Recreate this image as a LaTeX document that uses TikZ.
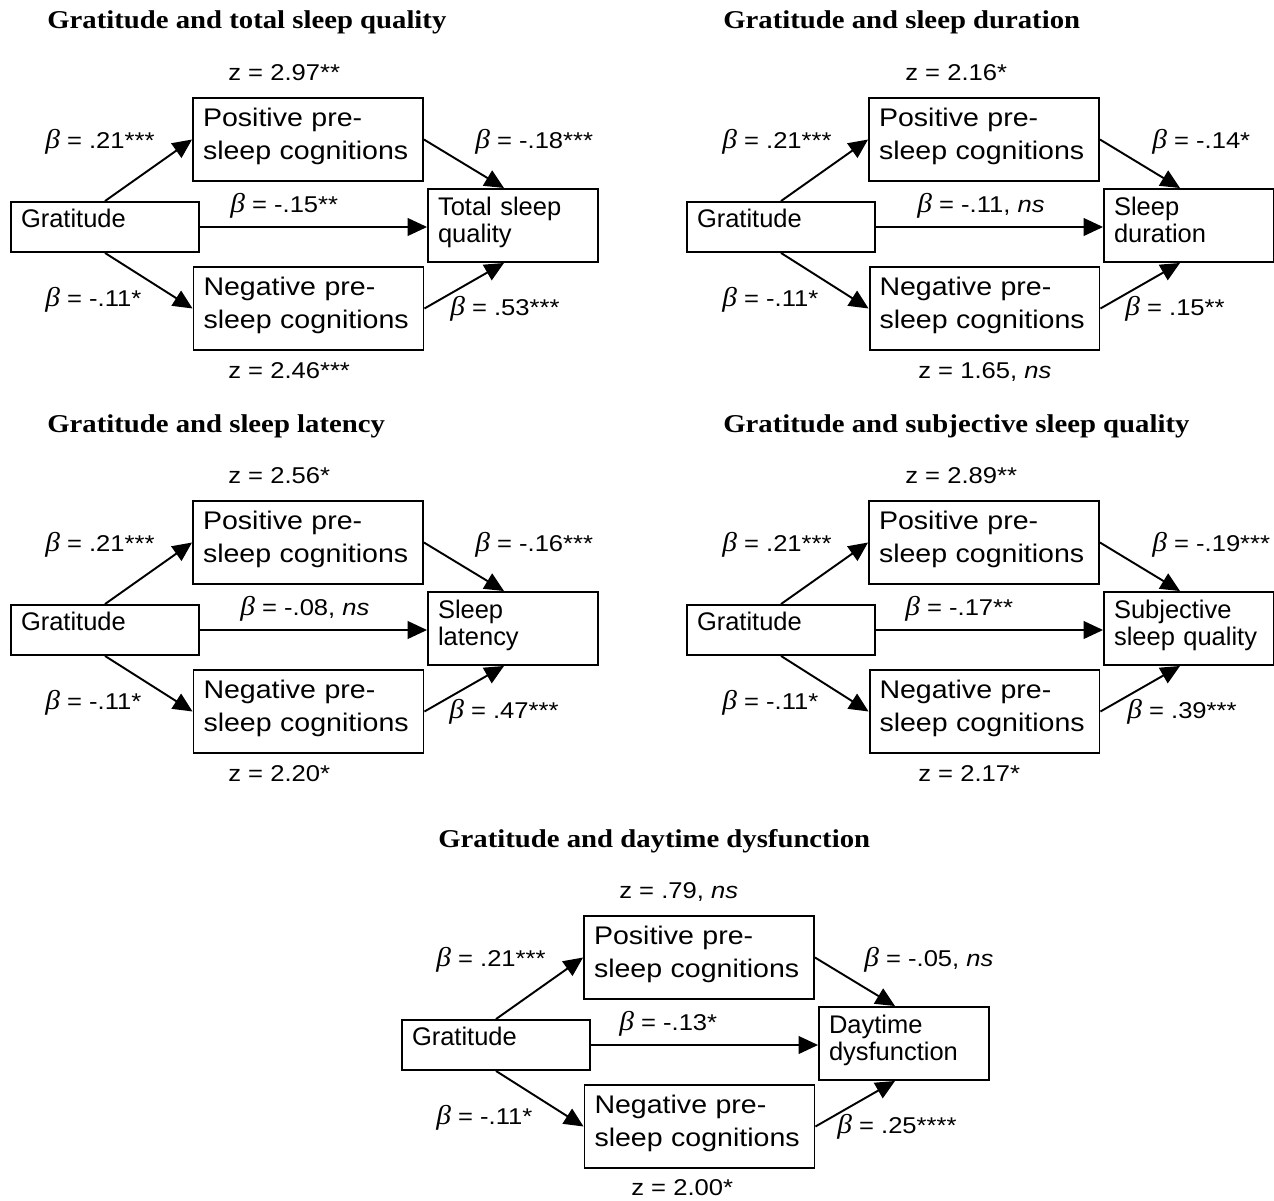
\documentclass[tikz,border=0pt]{standalone}
\usepackage{fontspec}
\setmainfont{Liberation Sans}
\newfontfamily\medfont{Liberation Sans}[FakeStretch=1.12]
\newfontfamily\ttlfont{Liberation Serif}[FakeStretch=1.12]
\newfontfamily\grkfont{Liberation Serif}[FakeStretch=1.08]
\usetikzlibrary{arrows.meta}
\newcommand\bb{{\grkfont\itshape\fontsize{15.5}{15}\selectfont β}}
\newcommand\lastdp{\rule[-7pt]{0pt}{7pt}}
\newcommand\ns{\textit{ns}}
\newcommand\skel[2]{%
  \node[grat] (#1g) at (105,227) {Gratitude};
  \node[med] (#1p) at (308,139.5) {Positive pre-\\sleep cognitions\lastdp};
  \node[med] (#1n) at (308.5,308.5) {Negative pre-\\sleep cognitions\lastdp};
  \node[outc] (#1o) at (513,225.5) {#2\lastdp};
  \draw[arr] (#1g.north) -- (#1p.west);
  \draw[arr] (#1g.south) -- (#1n.west);
  \draw[arr] (#1g.east) -- (#1g.east -| #1o.west);
  \draw[arr] (#1p.east) -- ([xshift=-0.18cm]#1o.north);
  \draw[arr] (#1n.east) -- ([xshift=-0.18cm]#1o.south);
}
\newcommand\lbl[3]{\node[lab] (#1) at (#2) {#3};}
\begin{document}
\begin{tikzpicture}[x=0.02cm,y=-0.02cm,
  box/.style={draw, line width=1.1pt, rectangle, inner sep=0pt, inner xsep=0.2cm, align=left},
  grat/.style={box, minimum width=3.76cm, minimum height=1.0cm, text width=3.36cm,
    text height=10.5pt, text depth=10.5pt, font=\fontsize{14.5}{17}\selectfont},
  med/.style={box, minimum width=4.6cm, minimum height=1.66cm, text width=4.2cm,
    font=\medfont\fontsize{14.5}{18.7}\selectfont},
  outc/.style={box, minimum width=3.4cm, minimum height=1.46cm, text width=3.0cm,
    font=\fontsize{14.5}{15.3}\selectfont},
  arr/.style={line width=1.1pt, -{Triangle[length=11pt,width=10pt]}},
  lab/.style={anchor=base west, inner sep=0pt, font=\medfont\fontsize{13}{14}\selectfont},
  ttl/.style={anchor=base west, inner sep=0pt, font=\ttlfont\bfseries\fontsize{14.6}{16}\selectfont}]
\fill[white] (0,0) rectangle (1274,1200);
\useasboundingbox (0,0) rectangle (1274,1200);

% Panel 1
\begin{scope}
  \skel{a}{Total sleep\\quality}
  \node[ttl] (a-t) at (47,29) {Gratitude and total sleep quality};
  \lbl{a-z1}{228,80}{z = 2.97**}
  \lbl{a-z2}{228,378}{z = 2.46***}
  \lbl{a-b1}{45,148}{\bb{} = .21***}
  \lbl{a-b2}{45,306}{\bb{} = -.11*}
  \lbl{a-b3}{230,212}{\bb{} = -.15**}
  \lbl{a-b4}{475,148}{\bb{} = -.18***}
  \lbl{a-b5}{450,315}{\bb{} = .53***}
\end{scope}

% Panel 2
\begin{scope}[shift={(676,0)}]
  \skel{b}{Sleep\\duration}
  \node[ttl] (b-t) at (47,29) {Gratitude and sleep duration};
  \lbl{b-z1}{229,80}{z = 2.16*}
  \lbl{b-z2}{242,378}{z = 1.65, \ns}
  \lbl{b-b1}{46,148}{\bb{} = .21***}
  \lbl{b-b2}{46,306}{\bb{} = -.11*}
  \lbl{b-b3}{241,212}{\bb{} = -.11, \ns}
  \lbl{b-b4}{476,148}{\bb{} = -.14*}
  \lbl{b-b5}{449,315}{\bb{} = .15**}
\end{scope}

% Panel 3
\begin{scope}[shift={(0,403)}]
  \skel{c}{Sleep\\latency}
  \node[ttl] (c-t) at (47,29) {Gratitude and sleep latency};
  \lbl{c-z1}{228,80}{z = 2.56*}
  \lbl{c-z2}{228,378}{z = 2.20*}
  \lbl{c-b1}{45,148}{\bb{} = .21***}
  \lbl{c-b2}{45,306}{\bb{} = -.11*}
  \lbl{c-b3}{240,212}{\bb{} = -.08, \ns}
  \lbl{c-b4}{475,148}{\bb{} = -.16***}
  \lbl{c-b5}{449,315}{\bb{} = .47***}
\end{scope}

% Panel 4
\begin{scope}[shift={(676,403)}]
  \skel{d}{Subjective\\sleep quality}
  \node[ttl] (d-t) at (47,29) {Gratitude and subjective sleep quality};
  \lbl{d-z1}{229,80}{z = 2.89**}
  \lbl{d-z2}{242,378}{z = 2.17*}
  \lbl{d-b1}{46,148}{\bb{} = .21***}
  \lbl{d-b2}{46,306}{\bb{} = -.11*}
  \lbl{d-b3}{229,212}{\bb{} = -.17**}
  \lbl{d-b4}{476,148}{\bb{} = -.19***}
  \lbl{d-b5}{451,315}{\bb{} = .39***}
\end{scope}

% Panel 5
\begin{scope}[shift={(391,818)}]
  \skel{e}{Daytime\\dysfunction}
  \node[ttl] (e-t) at (47,29) {Gratitude and daytime dysfunction};
  \lbl{e-z1}{228,80}{z = .79, \ns}
  \lbl{e-z2}{240,377}{z = 2.00*}
  \lbl{e-b1}{45,148}{\bb{} = .21***}
  \lbl{e-b2}{45,306}{\bb{} = -.11*}
  \lbl{e-b3}{228,212}{\bb{} = -.13*}
  \lbl{e-b4}{473,148}{\bb{} = -.05, \ns}
  \lbl{e-b5}{446,315}{\bb{} = .25****}
\end{scope}
\end{tikzpicture}
\end{document}
